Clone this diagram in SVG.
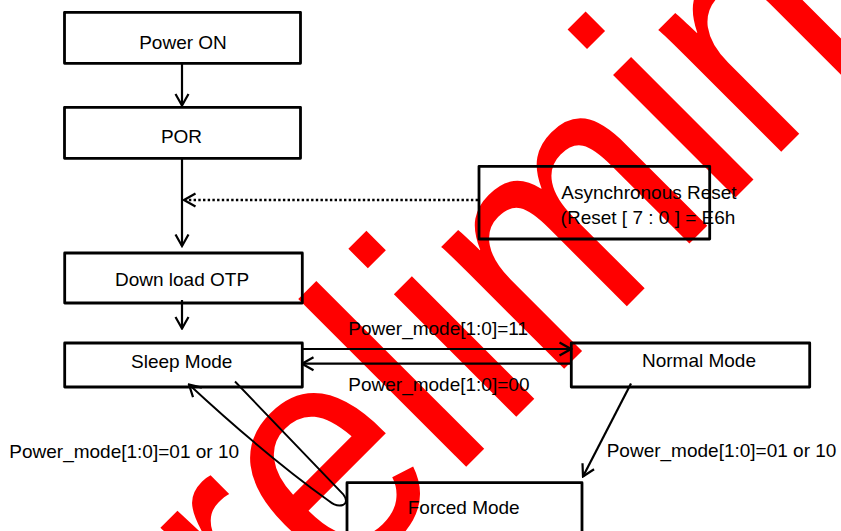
<svg xmlns="http://www.w3.org/2000/svg" width="841" height="531" viewBox="0 0 841 531">
<style>
.box{fill:none;stroke:#000;stroke-width:2.8;stroke-linejoin:round}
.lbl{font-family:"Liberation Sans",Arial,sans-serif;font-size:19px;fill:#000}
.mid{text-anchor:middle}
.conn{fill:none;stroke:#000;stroke-width:2.2}
.thin{fill:none;stroke:#000;stroke-width:1.9}
.dot{fill:none;stroke:#000;stroke-width:2.6;stroke-dasharray:2.4 2.3}
.wm{font-family:"Liberation Sans",Arial,sans-serif;font-size:290px;fill:#FF0000}
</style>
<defs>
<marker id="arr" viewBox="0 0 14 16" refX="12.5" refY="8" markerWidth="14" markerHeight="16" markerUnits="userSpaceOnUse" orient="auto">
<path d="M1,1.5 L12.5,8 L1,14.5" fill="none" stroke="#000" stroke-width="2.2" stroke-linejoin="miter"/>
</marker>
</defs>
<rect width="841" height="531" fill="#fff"/>
<g id="watermark" transform="translate(466.5,466.5) rotate(-45) scale(1,1.13)">
<text class="wm" x="-472 -279 -182 -20 51 118 361 425 586 747 844" y="0">Preliminary</text>
</g>
<g id="connectors">
<line class="conn" x1="182" y1="63" x2="182" y2="105.5" marker-end="url(#arr)"/>
<line class="conn" x1="182" y1="158" x2="182" y2="246" marker-end="url(#arr)"/>
<line class="dot" x1="478" y1="200" x2="185" y2="200"/>
<line class="conn" x1="196" y1="200" x2="184" y2="200" marker-end="url(#arr)" style="stroke-width:0"/>
<line class="conn" x1="182" y1="300" x2="182" y2="328.5" marker-end="url(#arr)"/>
<line class="conn" x1="302" y1="349" x2="571" y2="349" marker-end="url(#arr)"/>
<line class="conn" x1="571" y1="363.7" x2="302" y2="363.7" marker-end="url(#arr)"/>
<line class="conn" x1="631" y1="383.5" x2="583" y2="476.5" marker-end="url(#arr)"/>
<path class="thin" d="M235,381.5 L343,494 Q349,502 343,505 Q336,507 329,501 Q265,455 189,384.5" marker-end="url(#arr)"/>
</g>
<g id="power-on"><rect class="box" x="64.5" y="12.3" width="236" height="51"/><text class="lbl mid" x="183" y="48.7">Power ON</text></g>
<g id="por"><rect class="box" x="64.5" y="107.3" width="236" height="51"/><text class="lbl mid" x="181.5" y="143.3">POR</text></g>
<g id="async-reset"><rect class="box" x="479" y="166.3" width="230.7" height="72.7"/><text class="lbl mid" x="649" y="199">Asynchronous Reset</text><text class="lbl mid" x="648" y="224">(Reset [ 7 : 0 ] = E6h</text></g>
<g id="download-otp"><rect class="box" x="64.7" y="253" width="237.6" height="50"/><text class="lbl mid" x="182" y="285.5">Down load OTP</text></g>
<g id="sleep-mode"><rect class="box" x="64.7" y="343" width="237.6" height="44"/><text class="lbl mid" x="181.7" y="368.3">Sleep Mode</text></g>
<g id="normal-mode"><rect class="box" x="571.3" y="343" width="238.4" height="44"/><text class="lbl mid" x="699" y="367.3">Normal Mode</text></g>
<g id="forced-mode"><rect class="box" x="347" y="482.7" width="235" height="62"/><text class="lbl mid" x="463.7" y="514">Forced Mode</text></g>
<g id="labels">
<text class="lbl" x="348.3" y="335">Power_mode[1:0]=11</text>
<text class="lbl" x="348.3" y="390.7">Power_mode[1:0]=00</text>
<text class="lbl" x="9.3" y="457.7">Power_mode[1:0]=01 or 10</text>
<text class="lbl" x="606.7" y="456.7">Power_mode[1:0]=01 or 10</text>
</g>
</svg>
